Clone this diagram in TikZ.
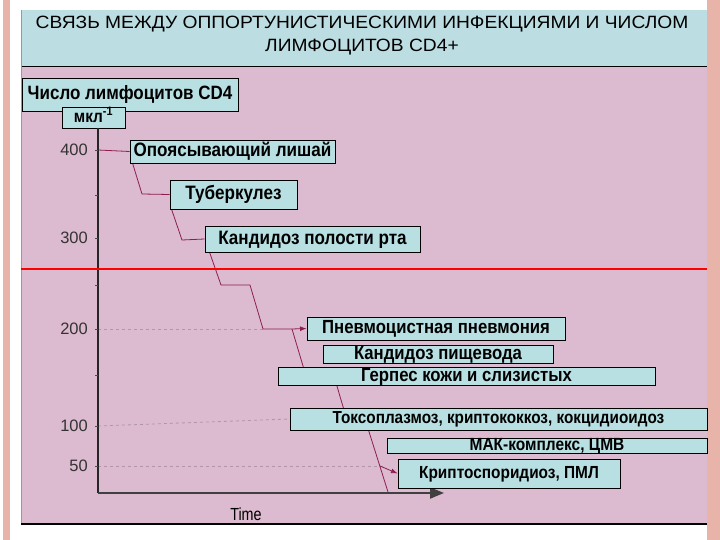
\documentclass[tikz,border=0pt]{standalone}
\usepackage{fontspec}
\setmainfont{Liberation Sans}
\newfontfamily\boxfont[FakeStretch=0.88]{Liberation Sans}
\newfontfamily\titlefont[FakeStretch=1.08]{Liberation Sans}
\newfontfamily\timefont[FakeStretch=0.82]{Liberation Sans}
\usetikzlibrary{arrows.meta,backgrounds}
\definecolor{panelpink}{RGB}{220,186,207}
\definecolor{titleblue}{RGB}{188,221,225}
\definecolor{boxblue}{RGB}{184,224,227}
\definecolor{salmon}{RGB}{232,180,170}
\definecolor{stepred}{RGB}{140,30,80}
\definecolor{gridpink}{RGB}{178,150,168}
\newcommand{\bsize}[1]{\fontsize{#1}{#1}\boxfont\bfseries}

\begin{document}
\begin{tikzpicture}[x=1pt,y=-1pt,>=Latex,
  box/.style={draw=black,line width=0.8pt,fill=boxblue,inner sep=0pt,
    text height=13.8pt,text depth=3.6pt,font=\bsize{19.4}},
  small/.style={text height=12.6pt,text depth=3.2pt},
  curve/.style={stepred,line width=0.8pt},
  grid/.style={gridpink,dashed,line width=0.8pt},
  tick/.style={font=\fontsize{16.5}{18}\selectfont,text=black!80,anchor=east,inner sep=0pt}]
\useasboundingbox (0,0) rectangle (720,540);
\begin{scope}[on background layer]
\fill[white] (0,0) rectangle (720,540);
\fill[salmon] (3,0) rectangle (10,540);
\fill[salmon] (707,0) rectangle (720,540);
\fill[panelpink] (21,10) rectangle (707,524);
\fill[titleblue] (21,10) rectangle (707,66);
\draw[black] (21,66) -- (707,66);
\draw[black!40] (21,10) -- (21,524);
\draw[black,line width=1.5pt] (21,524) -- (707,524);
\end{scope}
% title
\node[font=\fontsize{17.8}{23}\titlefont,align=center] (title) at (362,36)
  {СВЯЗЬ МЕЖДУ ОППОРТУНИСТИЧЕСКИМИ ИНФЕКЦИЯМИ И ЧИСЛОМ\\ЛИМФОЦИТОВ CD4+};
% axis labels
\node[box,minimum width=216,minimum height=33,font=\bsize{19.3}] (ylab) at (130,94.5) {Число лимфоцитов CD4};
\node[box,small,minimum width=63,minimum height=21,font=\bsize{17.5}] (unit) at (93.5,117.5) {мкл\textsuperscript{-1}};
\node[font=\fontsize{17.5}{18}\timefont] (time) at (246,514) {Time};
% axes
\coordinate (top) at (98,128);
\coordinate (o) at (98,493);
\coordinate (xend) at (444,493);
\draw[black!85,line width=1.3pt] (top) -- (o);
\draw[black!75,line width=2pt,-{Triangle[length=14,width=11]}] (o) -- (xend);
\foreach \y/\v in {150/400,238/300,329/200,426/100,466/50}{
  \coordinate (t\v) at (98,\y);
  \draw[black!70] (95,\y) -- (98,\y);
  \node[tick] at (88,\y) {\v};
}
\foreach \y in {195,285,375}
  \draw[black!70] (95,\y) -- (98,\y);
% red line
\draw[red,line width=1.3pt] (21,269) -- (707,269);
% boxes
\node[box,minimum width=205,minimum height=23] (shingles) at (232.5,151.5) {Опоясывающий лишай};
\node[box,minimum width=127,minimum height=29] (tb) at (233.5,194.5) {Туберкулез};
\node[box,minimum width=215,minimum height=26] (oral) at (312.5,239) {Кандидоз полости рта};
\node[box,minimum width=258,minimum height=23,font=\bsize{19}] (pcp) at (436,328.5) {Пневмоцистная пневмония};
\node[box,minimum width=230,minimum height=18,font=\bsize{19}] (esoph) at (438,354) {Кандидоз пищевода};
\node[box,minimum width=377,minimum height=17,font=\bsize{19}] (herpes) at (466.5,376.5) {Герпес кожи и слизистых};
\node[box,small,minimum width=417,minimum height=22,font=\bsize{17.4}] (toxo) at (498.5,419) {Токсоплазмоз, криптококкоз, кокцидиоидоз};
\node[box,small,minimum width=320,minimum height=15,font=\bsize{17.6},text depth=2.4pt] (mac) at (547,445.5) {МАК-комплекс, ЦМВ};
\node[box,small,minimum width=222,minimum height=29,font=\bsize{17.5}] (crypto) at (509,473.5) {Криптоспоридиоз, ПМЛ};
% steps
\begin{scope}[on background layer]
\draw[grid] (t200) -- (263,329);
\draw[grid] (t100) -- (toxo.west);
\draw[grid] (t50) -- (384,466);
\draw[curve] (t400) -- (shingles.west);
\draw[curve] ([xshift=3]shingles.south west) -- (142,194) -- (tb.west);
\draw[curve] ([xshift=2]tb.south west) -- (182,240) -- (oral.west);
\draw[curve] ([xshift=5]oral.south west) -- (221,285) -- (250,285) -- (263,329) -- (292,329) coordinate (kink);
\draw[curve] (kink) -- (306,376) -- (334,376) -- (344,410) -- (347,419) -- (365,419) -- (388,492);
\end{scope}
\draw[curve,->] (kink) -- (pcp.west);
\draw[curve,->] (380,466) -- (crypto.west);
\end{tikzpicture}
\end{document}
